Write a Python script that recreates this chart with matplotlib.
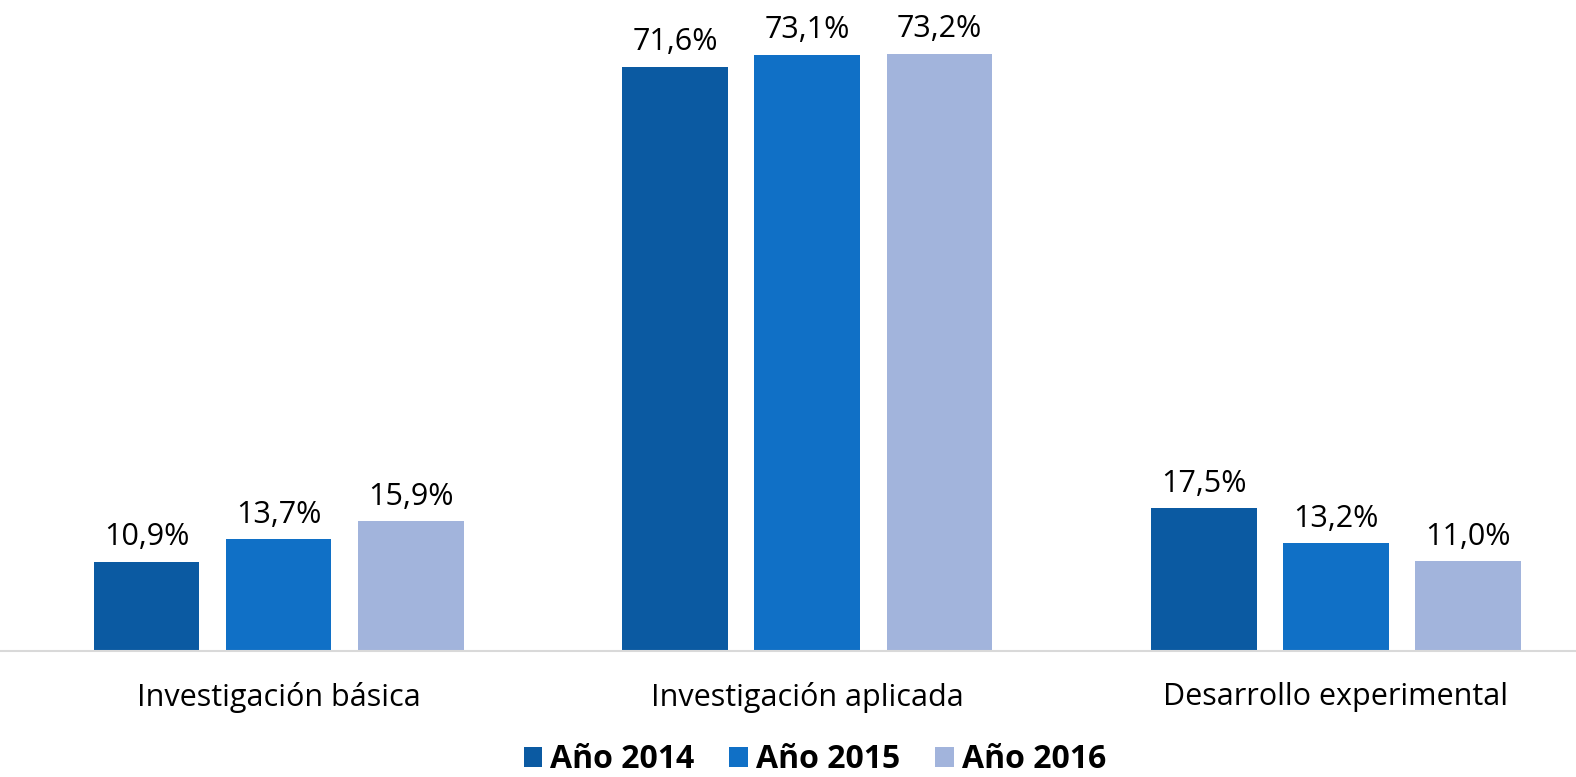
import numpy as np
import matplotlib
matplotlib.use("Agg")
import matplotlib.pyplot as plt

plt.rcParams['font.family'] = ['Open Sans', 'DejaVu Sans']

categories = ['Investigación básica', 'Investigación aplicada', 'Desarrollo experimental']
years = ['Año 2014', 'Año 2015', 'Año 2016']
v2014 = [10.9, 71.6, 17.5]
v2015 = [13.7, 73.1, 13.2]
v2016 = [15.9, 73.2, 11.0]
colors = ['#0B5AA2', '#1070C6', '#A2B4DC']

fig = plt.figure(figsize=(15.76, 7.77), dpi=100)
ax = fig.add_axes([0, 0.162, 1, 0.838])

x = np.arange(len(categories))
width = 0.2
step = 0.25
for i, (vals, lab, col) in enumerate(zip([v2014, v2015, v2016], years, colors)):
    bars = ax.bar(x + (i - 1) * step, vals, width, color=col, label=lab)
    for b, v in zip(bars, vals):
        ax.annotate('{:.1f}%'.format(v).replace('.', ','),
                    (b.get_x() + b.get_width() / 2, v),
                    xytext=(0, 7), textcoords='offset points',
                    ha='center', va='bottom', fontsize=22)

ax.set_xlim(-0.527, 2.454)
ax.set_ylim(0, 79.8)
ax.set_yticks([])
ax.set_xticks(x)
ax.set_xticklabels(categories, fontsize=22)
ax.tick_params(axis='x', length=0, pad=22)
for s in ['top', 'right', 'left']:
    ax.spines[s].set_visible(False)
ax.spines['bottom'].set_color('#D9D9D9')
ax.spines['bottom'].set_linewidth(1.5)

fig.legend(loc='lower center', ncol=3, frameon=False, bbox_to_anchor=(0.517, -0.036),
           prop={'weight': 'bold', 'size': 23}, handlelength=0.58, handleheight=0.58,
           handletextpad=0.25, columnspacing=1.1)

fig.savefig('out.png', dpi=100)
